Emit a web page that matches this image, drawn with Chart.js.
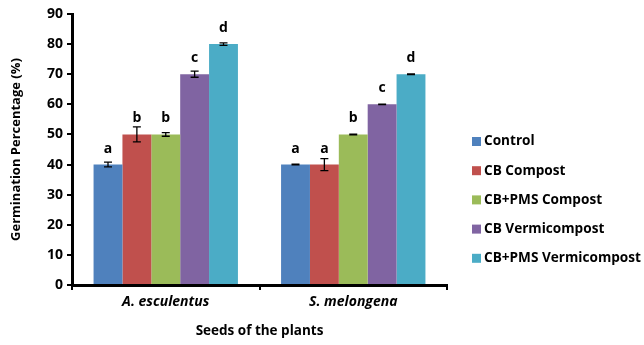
<!DOCTYPE html>
<html lang="en">
<head>
<meta charset="UTF-8">
<script src="https://cdn.jsdelivr.net/npm/chart.js"></script>
<title>Germination Percentage</title>
<style>
  body { margin: 0; background: #fff; }
  #wrap { width: 644px; height: 345px; }
</style>
</head>
<body>
<div id="wrap"><canvas id="myChart"></canvas></div>
<script>
const plants = ['A. esculentus', 'S. melongena'];
const treatments = ['Control', 'CB Compost', 'CB+PMS Compost', 'CB Vermicompost', 'CB+PMS Vermicompost'];
const colors = ['#4F81BD', '#C0504D', '#9BBB59', '#8064A2', '#4BACC6'];
// values per treatment: [A. esculentus, S. melongena]
const control = [40, 40];
const cbCompost = [50, 40];
const cbPmsCompost = [50, 50];
const cbVermi = [70, 60];
const cbPmsVermi = [80, 70];
const errControl = [0.8, 0.1];
const errCbCompost = [2.5, 2];
const errCbPmsCompost = [0.6, 0.1];
const errCbVermi = [1, 0.1];
const errCbPmsVermi = [0.4, 0.1];
const letters = [['a', 'a'], ['b', 'a'], ['b', 'b'], ['c', 'c'], ['d', 'd']];
const yTicks = [0, 10, 20, 30, 40, 50, 60, 70, 80, 90];

const values = [control, cbCompost, cbPmsCompost, cbVermi, cbPmsVermi];
const errors = [errControl, errCbCompost, errCbPmsCompost, errCbVermi, errCbPmsVermi];
const FONT = '"Open Sans", sans-serif';

const errorBars = {
  id: 'errorBars',
  afterDatasetsDraw(chart) {
    const ctx = chart.ctx;
    const y = chart.scales.y;
    ctx.save();
    chart.data.datasets.forEach((ds, i) => {
      chart.getDatasetMeta(i).data.forEach((bar, j) => {
        const v = values[i][j], e = errors[i][j];
        const top = y.getPixelForValue(v + e), bot = y.getPixelForValue(v - e);
        ctx.strokeStyle = '#000';
        ctx.lineWidth = 1.3;
        ctx.beginPath();
        ctx.moveTo(bar.x, top); ctx.lineTo(bar.x, bot);
        ctx.moveTo(bar.x - 4, top); ctx.lineTo(bar.x + 4, top);
        ctx.moveTo(bar.x - 4, bot); ctx.lineTo(bar.x + 4, bot);
        ctx.stroke();
        ctx.fillStyle = '#000';
        ctx.font = 'bold 14px ' + FONT;
        ctx.textAlign = 'center';
        ctx.textBaseline = 'alphabetic';
        ctx.fillText(letters[i][j], bar.x, y.getPixelForValue(v) - 12);
      });
    });
    ctx.restore();
  }
};

const sideLegend = {
  id: 'sideLegend',
  afterDraw(chart) {
    const ctx = chart.ctx;
    ctx.save();
    ctx.font = 'bold 13.6px ' + FONT;
    ctx.textBaseline = 'middle';
    ctx.textAlign = 'left';
    treatments.forEach((t, i) => {
      const cy = 141 + i * 29.2;
      ctx.fillStyle = colors[i];
      ctx.fillRect(472, cy - 4, 9, 9);
      ctx.fillStyle = '#000';
      ctx.fillText(t, 484, cy + 0.5);
    });
    ctx.restore();
  }
};

new Chart(document.getElementById('myChart'), {
  type: 'bar',
  data: {
    labels: plants,
    datasets: treatments.map((t, i) => ({
      label: t,
      data: values[i],
      backgroundColor: colors[i],
      borderWidth: 0
    }))
  },
  options: {
    responsive: true,
    maintainAspectRatio: false,
    animation: false,
    layout: { padding: { left: 4, top: 14, right: 197, bottom: 2 } },
    plugins: { legend: { display: false }, tooltip: { enabled: false } },
    datasets: { bar: { categoryPercentage: 0.77, barPercentage: 1 } },
    scales: {
      x: {
        afterFit(scale) { scale.height = 58; },
        grid: { offset: true, drawOnChartArea: false, color: '#000', lineWidth: 2, tickLength: 5 },
        border: { color: '#000', width: 3 },
        ticks: { color: '#000', font: { family: FONT, size: 14, weight: 'bold', style: 'italic' }, padding: 4 },
        title: { display: true, text: 'Seeds of the plants', color: '#000', font: { family: FONT, size: 13.5, weight: 'bold' }, padding: { top: 7 } }
      },
      y: {
        min: 0, max: 90,
        afterFit(scale) { scale.width = 68; },
        afterBuildTicks(scale) { scale.ticks = yTicks.map(v => ({ value: v })); },
        grid: { drawOnChartArea: false, color: '#000', lineWidth: 2, tickLength: 5 },
        border: { color: '#000', width: 3 },
        ticks: { color: '#000', font: { family: FONT, size: 14, weight: 'bold' }, padding: 4 },
        title: { display: true, text: 'Germination Percentage (%)', color: '#000', font: { family: FONT, size: 13, weight: 'bold' }, padding: { bottom: 5 } }
      }
    }
  },
  plugins: [errorBars, sideLegend]
});
</script>
</body>
</html>
